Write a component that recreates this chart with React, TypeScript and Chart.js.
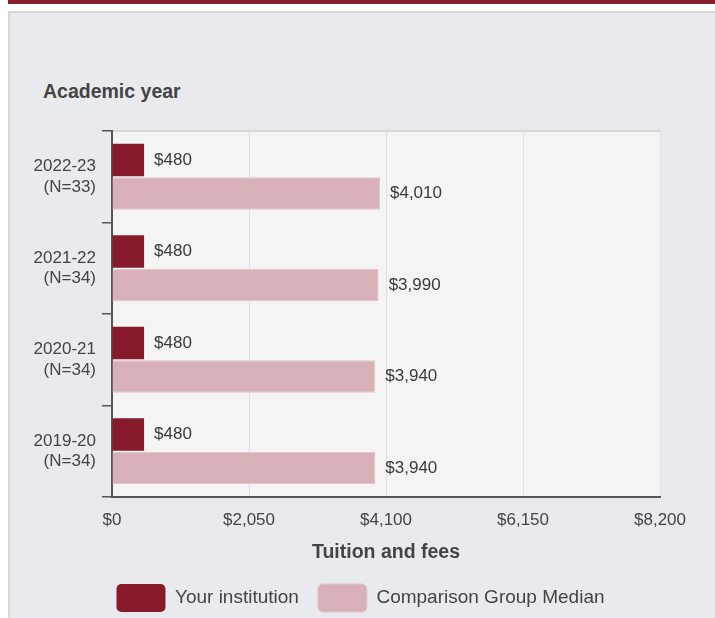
import React, { useEffect, useRef } from "react";
import { Chart, registerables } from "chart.js";

Chart.register(...registerables);

const categories: string[][] = [
  ["2022-23", "(N=33)"],
  ["2021-22", "(N=34)"],
  ["2020-21", "(N=34)"],
  ["2019-20", "(N=34)"],
];
const seriesNames = ["Your institution", "Comparison Group Median"];
const institutionValues = [480, 480, 480, 480];
const medianValues = [4010, 3990, 3940, 3940];
const xTickValues = [0, 2050, 4100, 6150, 8200];
const yAxisTitle = "Academic year";
const xAxisTitle = "Tuition and fees";

const FONT = "'Liberation Sans', Arial, sans-serif";
const DARK = "#871a2b";
const PINK = "#d7b1b7";

const money = (v: number) => "$" + v.toLocaleString("en-US");

const plotBackground = {
  id: "plotBackground",
  beforeDraw(chart: any) {
    const { ctx, chartArea } = chart;
    if (!chartArea) return;
    ctx.save();
    ctx.fillStyle = "#f4f4f4";
    ctx.fillRect(chartArea.left, chartArea.top, chartArea.right - chartArea.left, chartArea.bottom - chartArea.top);
    ctx.strokeStyle = "#d6d6d6";
    ctx.lineWidth = 2;
    ctx.beginPath();
    ctx.moveTo(chartArea.left, chartArea.top);
    ctx.lineTo(chartArea.right + 1, chartArea.top);
    ctx.stroke();
    ctx.restore();
  },
};

const valueLabels = {
  id: "valueLabels",
  afterDatasetsDraw(chart: any) {
    const ctx = chart.ctx;
    ctx.save();
    ctx.font = "17px " + FONT;
    ctx.fillStyle = "#3a3a3a";
    ctx.textBaseline = "middle";
    ctx.textAlign = "left";
    chart.data.datasets.forEach((ds: any, i: number) => {
      const meta = chart.getDatasetMeta(i);
      meta.data.forEach((bar: any, j: number) => {
        ctx.fillText(money(ds.data[j] as number), bar.x + 10, bar.y);
      });
    });
    ctx.restore();
  },
};

function BarChart() {
  const ref = useRef<HTMLCanvasElement | null>(null);
  useEffect(() => {
    if (!ref.current) return;
    const chart = new Chart(ref.current, {
      type: "bar",
      data: {
        labels: categories,
        datasets: [
          {
            label: seriesNames[0],
            data: institutionValues,
            backgroundColor: DARK,
            borderWidth: 0,
            categoryPercentage: 0.73,
            barPercentage: 0.97,
          },
          {
            label: seriesNames[1],
            data: medianValues,
            backgroundColor: PINK,
            borderColor: "#e2c6ca",
            borderWidth: 1,
            categoryPercentage: 0.73,
            barPercentage: 0.97,
          },
        ],
      },
      options: {
        indexAxis: "y",
        animation: false,
        responsive: true,
        maintainAspectRatio: false,
        layout: { padding: { top: 118, right: 4, left: 0, bottom: 0 } },
        font: { family: FONT },
        scales: {
          x: {
            min: 0,
            max: 8200,
            afterBuildTicks: (s: any) => {
              s.ticks = xTickValues.map((v) => ({ value: v }));
            },
            afterFit: (s: any) => {
              s.height = 68;
              s.paddingRight = 55;
            },
            ticks: {
              color: "#444",
              font: { size: 17, family: FONT },
              padding: 13,
              maxRotation: 0,
              autoSkip: false,
              callback: (v: any) => money(Number(v)),
            },
            grid: { color: "#dae1ee", lineWidth: 1, drawTicks: false },
            border: { display: true, color: "#555", width: 2 },
            title: {
              display: true,
              text: xAxisTitle,
              color: "#444",
              font: { size: 19.5, weight: "bold", family: FONT },
              padding: { top: 0, bottom: 1 },
            },
          },
          y: {
            afterFit: (s: any) => {
              s.width = 102;
            },
            ticks: {
              color: "#444",
              font: { size: 17, family: FONT },
              padding: 6,
            },
            grid: {
              offset: true,
              drawOnChartArea: false,
              drawTicks: true,
              tickLength: 10,
              color: "#555",
              lineWidth: 1.5,
            },
            border: { display: true, color: "#555", width: 2 },
          },
        },
        plugins: {
          legend: {
            position: "bottom",
            labels: {
              boxWidth: 49,
              boxHeight: 28,
              padding: 19,
              color: "#444",
              font: { size: 19, family: FONT },
              useBorderRadius: true,
              borderRadius: 5,
            },
          },
          tooltip: { enabled: false },
        },
      },
      plugins: [plotBackground, valueLabels],
    });
    return () => chart.destroy();
  }, []);
  return <canvas ref={ref} />;
}

export default function App() {
  return (
    <div
      style={{
        position: "absolute",
        left: 0,
        top: 0,
        width: 715,
        height: 618,
        overflow: "hidden",
        background: "#ffffff",
      }}
    >
      <div style={{ position: "absolute", left: 8, top: 0, width: 710, height: 4, background: "#8a1a2d" }} />
      <div
        style={{
          position: "absolute",
          left: 8,
          top: 11,
          width: 720,
          height: 640,
          boxSizing: "border-box",
          border: "2px solid #d6d6d6",
          background: "#e9eaee",
        }}
      />
      <div
        style={{
          position: "absolute",
          left: 43,
          top: 81,
          fontFamily: FONT,
          fontSize: 19.5,
          lineHeight: "20px",
          fontWeight: "bold",
          color: "#444",
          whiteSpace: "nowrap",
        }}
      >
        {yAxisTitle}
      </div>
      <div style={{ position: "absolute", left: 10, top: 13, width: 705, height: 609 }}>
        <BarChart />
      </div>
    </div>
  );
}
